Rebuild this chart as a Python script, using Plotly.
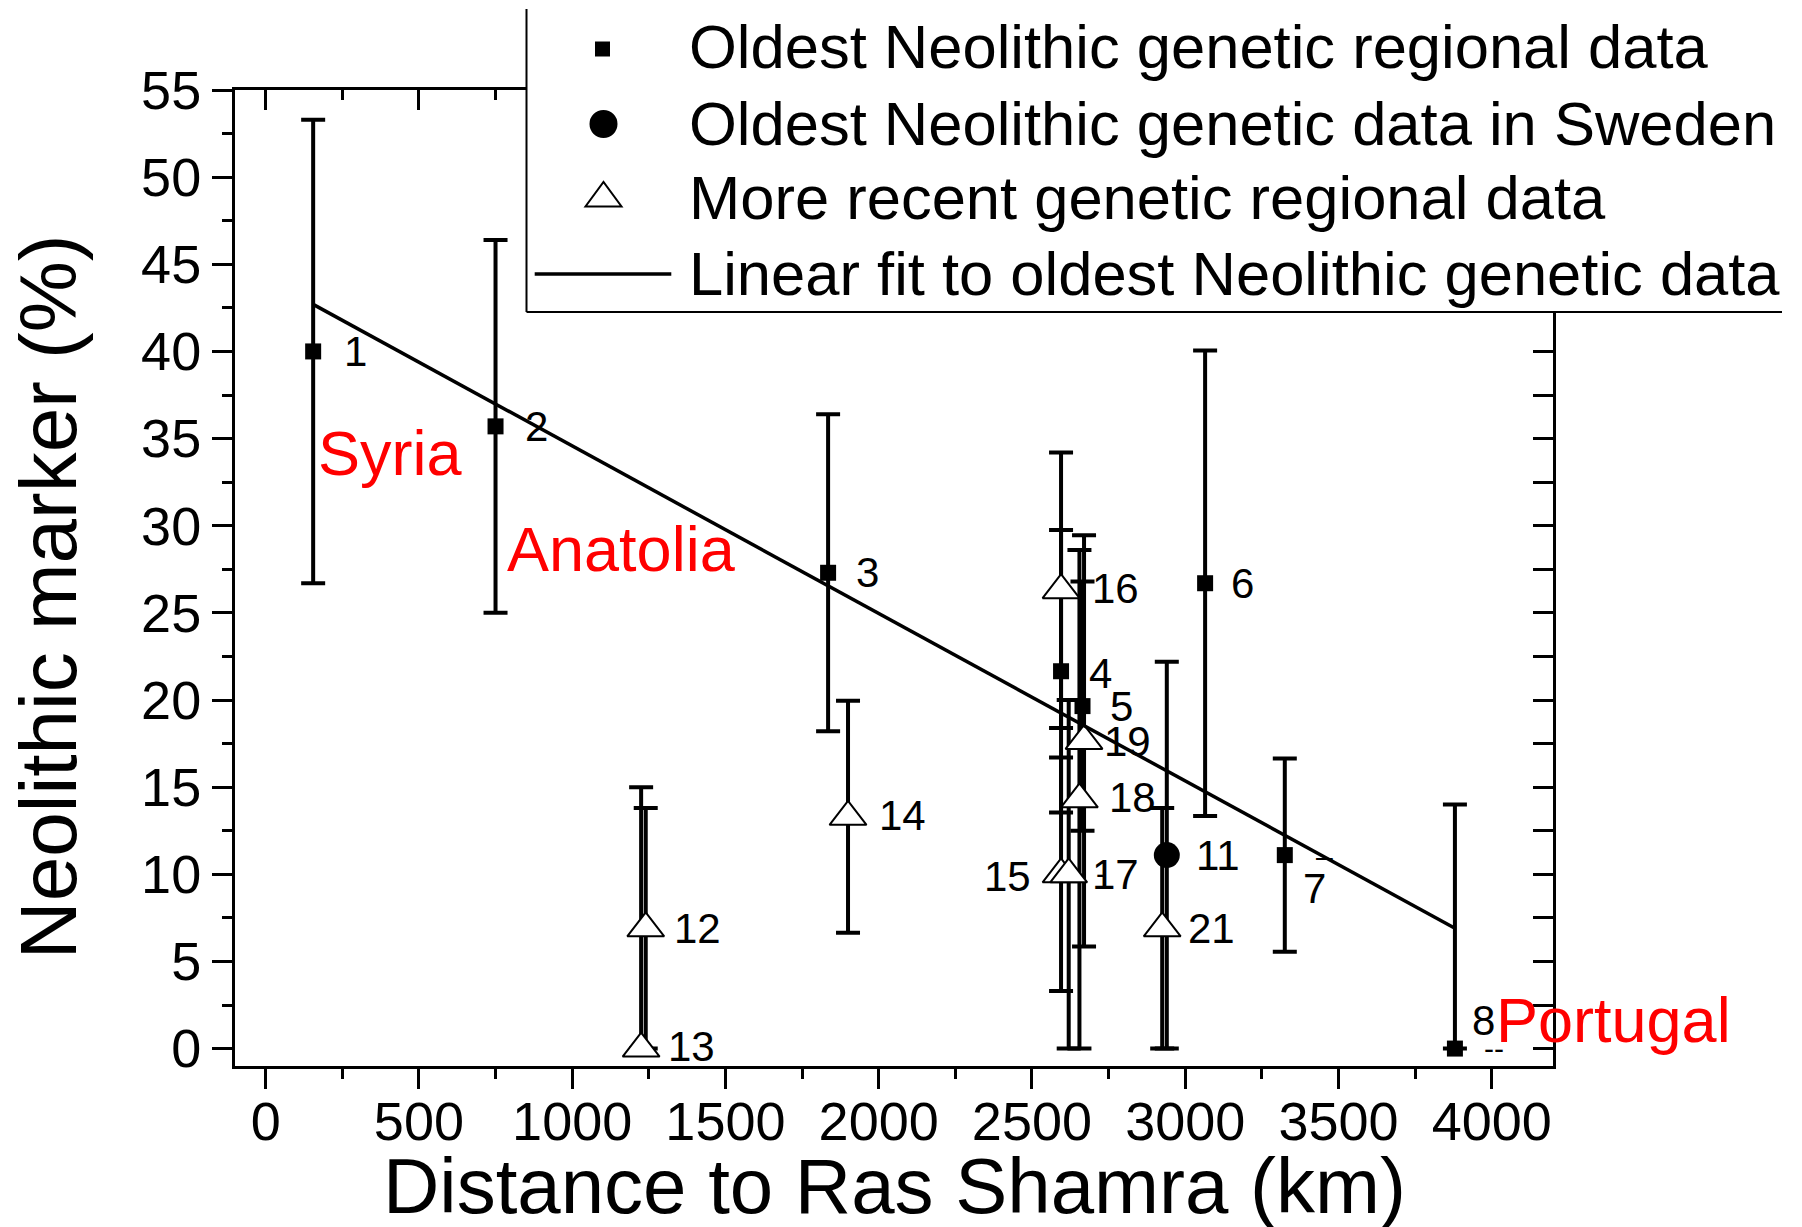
import plotly.graph_objects as go

# ---------------- data ----------------
# Oldest Neolithic genetic regional data (labels 1-8)
old_id = ["1", "2", "3", "4", "5", "6", "7", "8"]
old_x = [155, 750, 1835, 2595, 2665, 3065, 3325, 3880]
old_y = [40.0, 35.7, 27.3, 21.65, 19.65, 26.7, 11.1, 0.0]
old_err_plus = [13.3, 10.7, 9.1, 8.1, 7.15, 13.35, 5.55, 14.0]
old_err_minus = [13.3, 10.7, 9.1, 8.1, 7.15, 13.35, 5.55, 0.0]

# Oldest Neolithic genetic data in Sweden (label 11)
swe_id = ["11"]
swe_x = [2940]
swe_y = [11.1]
swe_err_plus = [11.1]
swe_err_minus = [11.1]

# More recent genetic regional data (labels 12-21)
rec_id = ["12", "13", "14", "15", "16", "17", "18", "19", "21"]
rec_x = [1240, 1225, 1900, 2595, 2595, 2620, 2655, 2670, 2925]
rec_y = [6.9, 0.0, 13.3, 10.0, 26.3, 10.0, 14.3, 17.65, 6.9]
rec_err_plus = [6.9, 15.0, 6.65, 6.7, 7.9, 10.0, 14.3, 11.8, 6.9]
rec_err_minus = [6.9, 0.0, 6.65, 6.7, 7.9, 10.0, 14.3, 11.8, 6.9]

# Linear fit to the oldest Neolithic data (end points)
fit_x = [155, 3880]
fit_y = [42.7, 6.9]

# point number labels (text, x, y)
lab_text = ["1", "2", "3", "4", "5", "6", "7", "8", "11", "12", "13", "14",
            "16", "17", "18", "19", "21"]
lab_x = [250, 839, 1918, 2680, 2748, 3143, 3379, 3930, 3030, 1325, 1307, 1993,
         2690, 2690, 2745, 2730, 3004]
lab_y = [40.0, 35.7, 27.3, 21.5, 19.6, 26.7, 9.2, 1.6, 11.1, 6.9, 0.1, 13.35,
         26.4, 10.0, 14.4, 17.6, 6.9]
lab15_text = "15"
lab15_x = 2503
lab15_y = 9.9

# region labels
reg_text = ["Syria", "Anatolia", "Portugal"]
reg_x = [164, 780, 4006]
reg_y = [34.15, 28.65, 1.65]

# stray cap marks near labels
dash_text = ["–", "-", "--"]
dash_x = [3455, 2724, 4009]
dash_y = [11.0, 10.05, 0.0]

x_ticks = [0, 500, 1000, 1500, 2000, 2500, 3000, 3500, 4000]
y_ticks = [0, 5, 10, 15, 20, 25, 30, 35, 40, 45, 50, 55]

legend_names = ["Oldest Neolithic genetic regional data",
                "Oldest Neolithic genetic data in Sweden",
                "More recent genetic regional data",
                "Linear fit to oldest Neolithic genetic data"]

# ---------------- layout constants ----------------
FONT = "Liberation Sans, Arial, sans-serif"
BLACK = "#000000"
FIG_W, FIG_H = 1802, 1227
M_L, M_R, M_T, M_B = 227, 257, 82, 169
PW = FIG_W - M_L - M_R
PH = FIG_H - M_T - M_B


def px(fx):
    """figure pixel x -> paper x"""
    return (fx - M_L) / PW


def py(fy):
    """figure pixel y (from top) -> paper y"""
    return (FIG_H - M_B - fy) / PH


def eb(plus, minus):
    return dict(type="data", symmetric=False, array=plus, arrayminus=minus,
                color=BLACK, thickness=4, width=12)


fig = go.Figure()

fig.add_trace(go.Scatter(
    x=old_x, y=old_y, mode="markers", name=legend_names[0],
    marker=dict(symbol="square", size=16, color=BLACK),
    error_y=eb(old_err_plus, old_err_minus), cliponaxis=False))

fig.add_trace(go.Scatter(
    x=swe_x, y=swe_y, mode="markers", name=legend_names[1],
    marker=dict(symbol="circle", size=26, color=BLACK),
    error_y=eb(swe_err_plus, swe_err_minus), cliponaxis=False))

fig.add_trace(go.Scatter(
    x=rec_x, y=rec_y, mode="markers", name=legend_names[2],
    marker=dict(symbol="triangle-up", size=32, color="white",
                line=dict(color=BLACK, width=2)),
    error_y=eb(rec_err_plus, rec_err_minus), cliponaxis=False))

fig.add_trace(go.Scatter(
    x=fit_x, y=fit_y, mode="lines", name=legend_names[3],
    line=dict(color=BLACK, width=3.5)))

# dummy trace so the mirrored (top / right) axes are drawn
fig.add_trace(go.Scatter(x=[None], y=[None], xaxis="x2", yaxis="y2",
                         showlegend=False, hoverinfo="skip"))

annotations = []
for t, x, y in zip(lab_text, lab_x, lab_y):
    annotations.append(dict(x=x, y=y, text=t, xref="x", yref="y", showarrow=False,
                            xanchor="left", yanchor="middle",
                            font=dict(size=42, color=BLACK, family=FONT)))
annotations.append(dict(x=lab15_x, y=lab15_y, text=lab15_text, xref="x", yref="y",
                        showarrow=False, xanchor="right", yanchor="middle",
                        font=dict(size=42, color=BLACK, family=FONT)))
for t, x, y in zip(reg_text, reg_x, reg_y):
    annotations.append(dict(x=x, y=y, text=t, xref="x", yref="y", showarrow=False,
                            xanchor="left", yanchor="middle",
                            font=dict(size=63, color="#ff0000", family=FONT)))
for t, x, y in zip(dash_text, dash_x, dash_y):
    annotations.append(dict(x=x, y=y, text=t, xref="x", yref="y", showarrow=False,
                            xanchor="center", yanchor="middle",
                            font=dict(size=30, color=BLACK, family=FONT)))
# axis titles
annotations.append(dict(x=0.5005, y=-0.123, xref="paper", yref="paper",
                        text="Distance to Ras Shamra (km)", showarrow=False,
                        xanchor="center", yanchor="middle",
                        font=dict(size=78, color=BLACK, family=FONT)))
annotations.append(dict(x=-0.1418, y=0.4805, xref="paper", yref="paper",
                        text="Neolithic marker (%)", showarrow=False, textangle=-90,
                        xanchor="center", yanchor="middle",
                        font=dict(size=80, color=BLACK, family=FONT)))

# ---------------- legend (drawn as shapes + text) ----------------
LEG_L, LEG_R, LEG_T, LEG_B = 518.5, 1774, -30, 304
row_cy = [38.3, 115.0, 190.0, 265.0]
sym_cx = 594.5
text_x = 679

shapes = []
shapes.append(dict(type="rect", xref="paper", yref="paper", layer="above",
                   x0=px(LEG_L), x1=px(LEG_R), y0=py(LEG_B), y1=py(LEG_T),
                   fillcolor="white", line=dict(width=0)))
shapes.append(dict(type="line", xref="paper", yref="paper", layer="above",
                   x0=px(LEG_L), x1=px(LEG_L), y0=py(LEG_B), y1=py(1),
                   line=dict(color=BLACK, width=2)))
shapes.append(dict(type="line", xref="paper", yref="paper", layer="above",
                   x0=px(LEG_L), x1=px(LEG_R), y0=py(LEG_B), y1=py(LEG_B),
                   line=dict(color=BLACK, width=2)))
# square symbol
sq = 7.5
shapes.append(dict(type="rect", xref="paper", yref="paper", layer="above",
                   x0=px(sym_cx - sq), x1=px(sym_cx + sq),
                   y0=py(41.0 + sq), y1=py(41.0 - sq),
                   fillcolor=BLACK, line=dict(width=0)))
# circle symbol
cr = 14
shapes.append(dict(type="circle", xref="paper", yref="paper", layer="above",
                   x0=px(sym_cx + 1 - cr), x1=px(sym_cx + 1 + cr),
                   y0=py(116 + cr), y1=py(116 - cr),
                   fillcolor=BLACK, line=dict(width=0)))
# open triangle symbol
tcx, ttop, tbot, thw = sym_cx + 1, 174, 198.5, 18
tri = "M {:.5f},{:.5f} L {:.5f},{:.5f} L {:.5f},{:.5f} Z".format(
    px(tcx - thw), py(tbot), px(tcx + thw), py(tbot), px(tcx), py(ttop))
shapes.append(dict(type="path", xref="paper", yref="paper", layer="above",
                   path=tri, fillcolor="white", line=dict(color=BLACK, width=2)))
# line symbol
shapes.append(dict(type="line", xref="paper", yref="paper", layer="above",
                   x0=px(526.7), x1=px(663.3), y0=py(266), y1=py(266),
                   line=dict(color=BLACK, width=3.5)))

for name, cy in zip(legend_names, row_cy):
    annotations.append(dict(x=px(text_x), y=py(cy), xref="paper", yref="paper",
                            text=name, showarrow=False, xanchor="left",
                            yanchor="middle",
                            font=dict(size=61.5, color=BLACK, family=FONT)))

axis_common = dict(showgrid=False, zeroline=False, showline=True, linecolor=BLACK,
                   linewidth=3, tickcolor=BLACK, tickwidth=3, ticklen=20,
                   tickfont=dict(size=54, color=BLACK, family=FONT))

fig.update_layout(
    width=FIG_W, height=FIG_H,
    margin=dict(l=M_L, r=M_R, t=M_T, b=M_B, autoexpand=False),
    paper_bgcolor="white", plot_bgcolor="white",
    font=dict(family=FONT, color=BLACK),
    showlegend=False,
    xaxis=dict(range=[-100, 4200], tickvals=x_ticks, ticks="outside",
               ticklabelstandoff=-14,
               minor=dict(dtick=250, tick0=0, ticklen=10, tickwidth=3,
                          tickcolor=BLACK, ticks="outside"),
               **axis_common),
    yaxis=dict(range=[-1, 55], tickvals=y_ticks, ticks="outside",
               minor=dict(dtick=2.5, tick0=0, ticklen=10, tickwidth=3,
                          tickcolor=BLACK, ticks="outside"),
               **axis_common),
    xaxis2=dict(range=[-100, 4200], overlaying="x", side="top", anchor="y",
                tickvals=x_ticks, ticks="inside", showticklabels=False,
                minor=dict(dtick=250, tick0=0, ticklen=10, tickwidth=3,
                           tickcolor=BLACK, ticks="inside"),
                **axis_common),
    yaxis2=dict(range=[-1, 55], overlaying="y", side="right", anchor="x",
                tickvals=y_ticks, ticks="inside", showticklabels=False,
                minor=dict(dtick=2.5, tick0=0, ticklen=20, tickwidth=3,
                           tickcolor=BLACK, ticks="inside"),
                **axis_common),
    annotations=annotations,
    shapes=shapes,
)

fig.write_html("out.html")
